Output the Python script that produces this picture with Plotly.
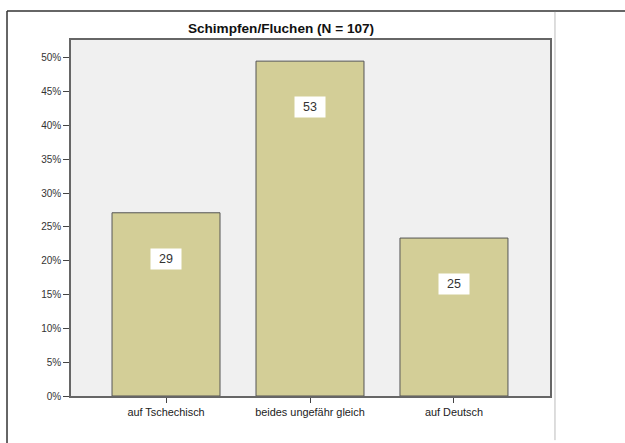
import plotly.graph_objects as go

categories = ["auf Tschechisch", "beides ungefähr gleich", "auf Deutsch"]
counts = [29, 53, 25]
total = 107
title_text = "Schimpfen/Fluchen (N = 107)"
tick_vals = [0, 0.05, 0.10, 0.15, 0.20, 0.25, 0.30, 0.35, 0.40, 0.45, 0.50]
tick_text = ["0%", "5%", "10%", "15%", "20%", "25%", "30%", "35%", "40%", "45%", "50%"]

shares = [c / total for c in counts]

fig = go.Figure()
fig.add_trace(go.Bar(
    x=categories, y=shares, width=0.75,
    marker=dict(color="#d3ce97", line=dict(color="#555555", width=1)),
    hoverinfo="skip",
))

for cat, s, c in zip(categories, shares, counts):
    fig.add_annotation(
        x=cat, y=s - 0.068, text=str(c), showarrow=False,
        bgcolor="white", font=dict(family="Arial, Liberation Sans", size=12.5, color="#333333"),
        width=26, height=16, borderpad=2,
    )

fig.update_layout(
    width=625, height=443,
    margin=dict(l=71, r=75, t=40, b=47),
    paper_bgcolor="white", plot_bgcolor="#f0f0f0",
    showlegend=False,
    font=dict(family="Arial, Liberation Sans", color="#222222"),
    title=dict(text="<b>" + title_text + "</b>", x=(281 - 71) / 479, xanchor="center",
               xref="paper", y=1 - 28.5 / 443, yanchor="middle",
               font=dict(size=13.6, color="#111111")),
    xaxis=dict(range=[-0.66, 2.667], showgrid=False, ticks="outside", ticklen=5,
               tickcolor="#444444", showline=True, linecolor="#666666", linewidth=1.5,
               mirror=True, tickfont=dict(size=10.9, color="#222222"), fixedrange=True),
    yaxis=dict(range=[0, 0.5266], tickvals=tick_vals, ticktext=tick_text, showgrid=False,
               zeroline=False, ticks="outside", ticklen=6, tickcolor="#444444",
               showline=True, linecolor="#666666", linewidth=1.5, mirror=True,
               tickfont=dict(size=10, color="#333333"), fixedrange=True),
    shapes=[
        dict(type="line", xref="paper", yref="paper", x0=-0.1336, x1=1.1566,
             y0=1.0815, y1=1.0815, line=dict(color="#333333", width=1.5)),
        dict(type="line", xref="paper", yref="paper", x0=-0.1336, x1=-0.1336,
             y0=1.0815, y1=-0.14, line=dict(color="#333333", width=1.5)),
        dict(type="line", xref="paper", yref="paper", x0=1.0104, x1=1.0104,
             y0=1.079, y1=-0.124, line=dict(color="#bbbbbb", width=1)),
    ],
)

fig.write_html("out.html", post_script="document.body.style.margin='0';",
               config={"displayModeBar": False})
